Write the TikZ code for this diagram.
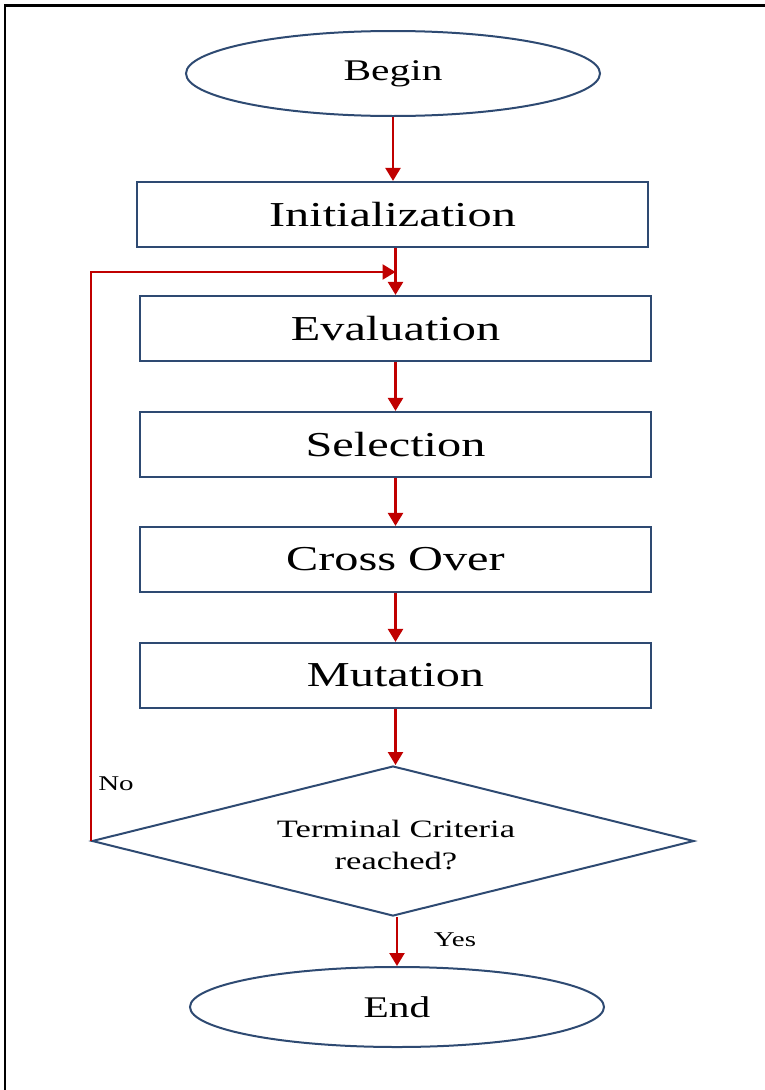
\documentclass[tikz,border=0pt]{standalone}
\usepackage{fontspec}
\setmainfont[FakeStretch=1.38]{Liberation Serif}
\usetikzlibrary{shapes.geometric,arrows.meta}
\definecolor{navy}{HTML}{2E4A72}
\definecolor{arrowred}{HTML}{C00000}
\begin{document}
\begin{tikzpicture}[x=1pt,y=-1pt,
  box/.style={draw=navy,line width=2.2pt,minimum width=511pt,minimum height=65pt,inner sep=0pt,font=\fontsize{35}{40}\selectfont},
  term/.style={draw=navy,line width=2pt,ellipse,minimum width=414pt,inner sep=0pt,font=\fontsize{30}{36}\selectfont},
  decision/.style={draw=navy,line width=2pt,diamond,minimum width=602pt,minimum height=150pt,inner sep=0pt},
  flow/.style={draw=arrowred,line width=2.4pt,-{Triangle[width=15pt,length=13pt]}},
  lbl/.style={font=\fontsize{21}{24}\selectfont,inner sep=0pt}]
\useasboundingbox (0,0) rectangle (765,1090);
\draw[line width=3pt] (4,5) -- (765,5);
\draw[line width=1.5pt] (5,5) -- (5,1090);
\node[term,minimum height=85pt] (begin) at (393,73.5) {Begin};
\node[box] (init) at (392.5,214.5) {Initialization};
\node[box] (eval) at (395.5,328.5) {Evaluation};
\node[box] (sel) at (395.5,444.5) {Selection};
\node[box] (cross) at (395.5,559.5) {Cross Over};
\node[box] (mut) at (395.5,675.5) {Mutation};
\node[decision] (dec) at (393,841) {};
\node[align=center,font=\fontsize{25}{32}\selectfont,inner sep=0pt] (dtext) at (396,845) {Terminal Criteria\\reached?};
\node[term,minimum height=80pt] (end) at (397,1007) {End};
\node[lbl] (no) at (116,784) {No};
\node[lbl] (yes) at (455,940) {Yes};
\coordinate (join) at (395.5,272);
\draw[flow] (begin.south) -- (begin.south |- init.north);
\draw[flow] (init.south -| eval.north) -- (eval.north);
\draw[flow] (eval.south) -- (sel.north);
\draw[flow] (sel.south) -- (cross.north);
\draw[flow] (cross.south) -- (mut.north);
\draw[flow] (mut.south) -- (mut.south |- dec.north);
\draw[flow] (dec.south -| end.north) -- (end.north);
\draw[flow] (dec.west) |- (join);
\end{tikzpicture}
\end{document}
